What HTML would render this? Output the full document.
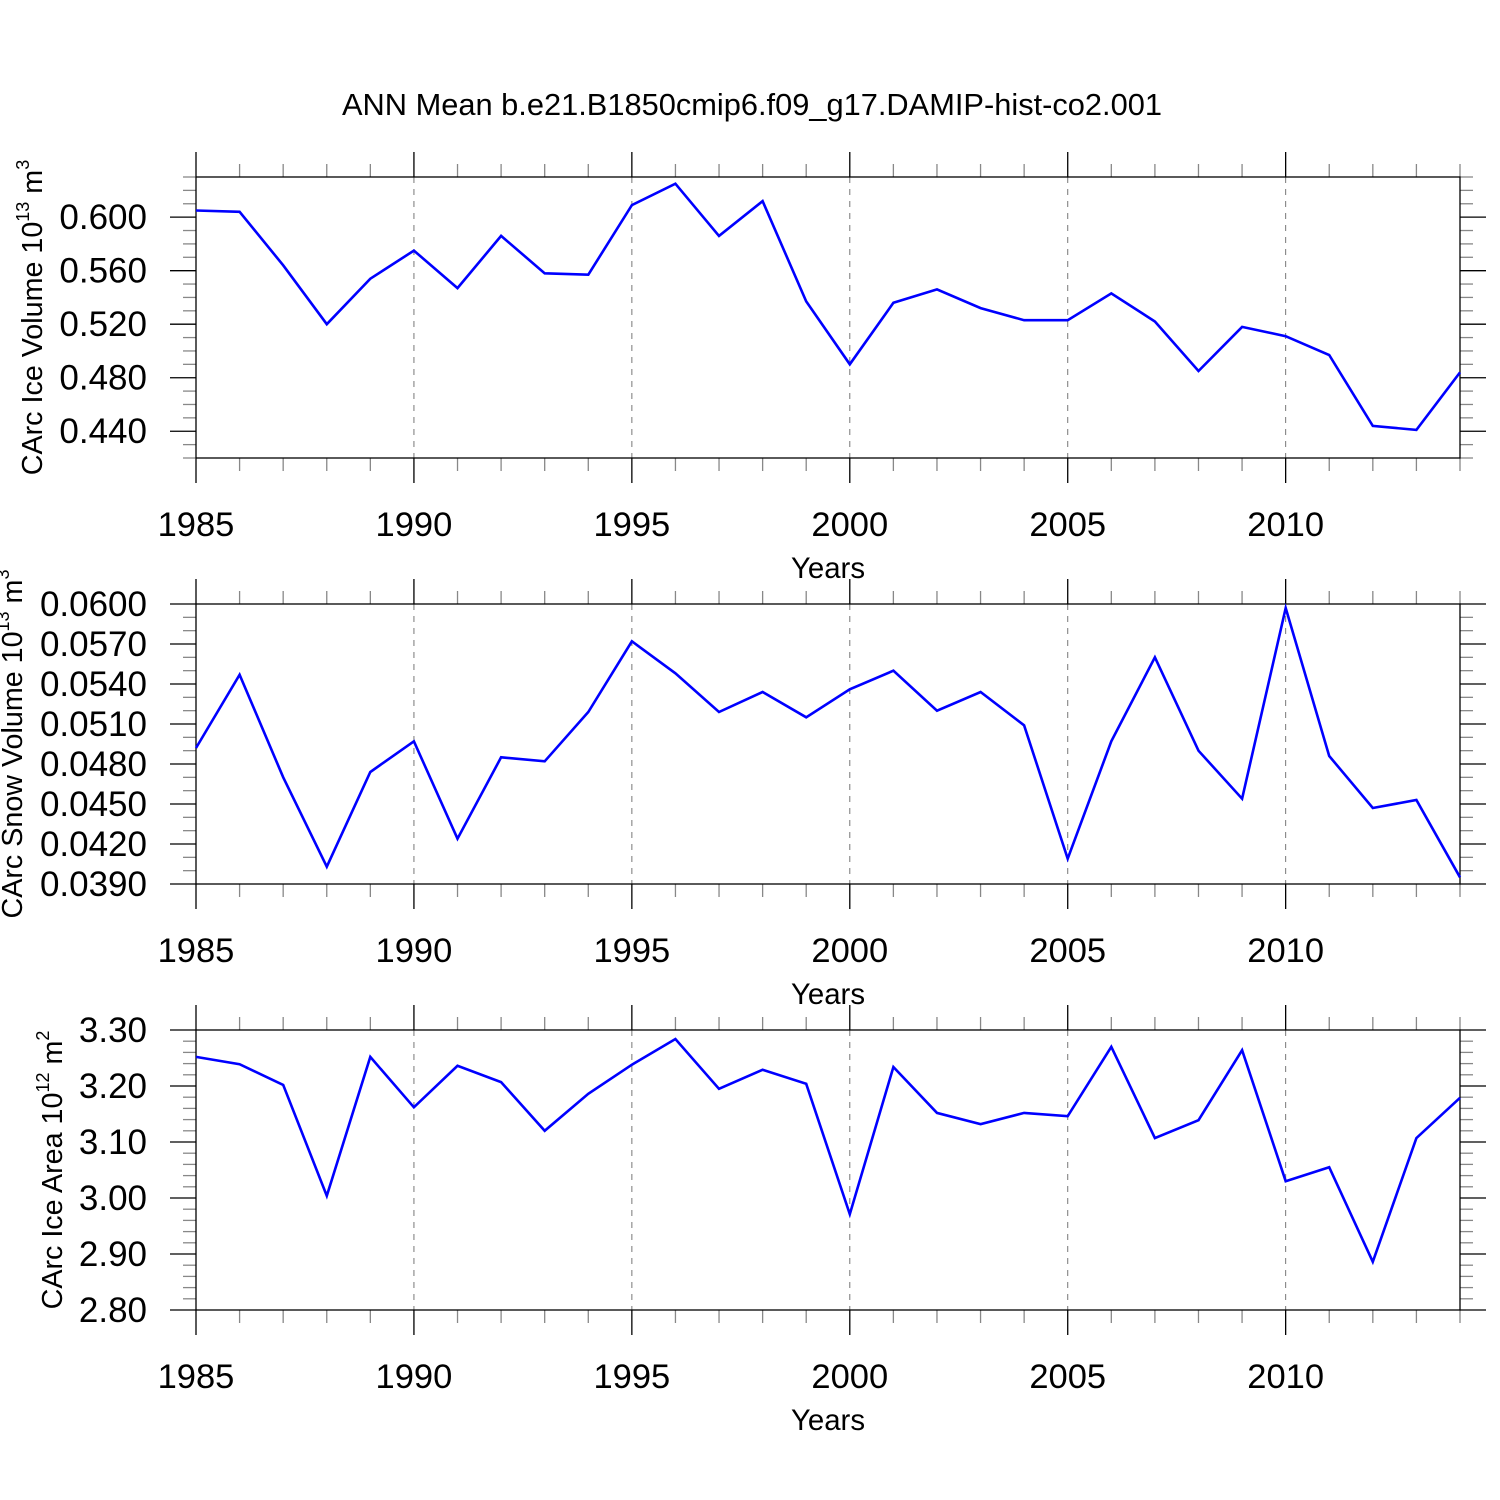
<!DOCTYPE html>
<html><head><meta charset="utf-8">
<style>html,body{margin:0;padding:0;background:#fff;}svg{display:block;}</style>
</head><body>
<svg id="chart" width="1500" height="1500" xmlns="http://www.w3.org/2000/svg" font-family="'Liberation Sans', sans-serif">
<rect width="1500" height="1500" fill="#fff"/>
<text x="752" y="115" font-size="30.8" text-anchor="middle">ANN Mean b.e21.B1850cmip6.f09_g17.DAMIP-hist-co2.001</text>
</svg>
<script>
const years = [1985,1986,1987,1988,1989,1990,1991,1992,1993,1994,1995,1996,1997,1998,1999,2000,2001,2002,2003,2004,2005,2006,2007,2008,2009,2010,2011,2012,2013,2014];
const iceVolume = [0.605,0.604,0.564,0.520,0.554,0.575,0.547,0.586,0.558,0.557,0.609,0.625,0.586,0.612,0.537,0.490,0.536,0.546,0.532,0.523,0.523,0.543,0.522,0.485,0.518,0.511,0.497,0.444,0.441,0.484];
const snowVolume = [0.0492,0.0547,0.0470,0.0403,0.0474,0.0497,0.0424,0.0485,0.0482,0.0519,0.0572,0.0548,0.0519,0.0534,0.0515,0.0536,0.0550,0.0520,0.0534,0.0509,0.0409,0.0497,0.0560,0.0490,0.0454,0.0597,0.0486,0.0447,0.0453,0.0395];
const iceArea = [3.252,3.239,3.202,3.004,3.252,3.162,3.236,3.207,3.120,3.186,3.238,3.284,3.195,3.229,3.204,2.971,3.234,3.152,3.132,3.152,3.146,3.270,3.107,3.139,3.264,3.030,3.055,2.886,3.107,3.179];
const xTickLabels = ["1985","1990","1995","2000","2005","2010"];
const iceVolTicks = ["0.440","0.480","0.520","0.560","0.600"];
const snowTicks = ["0.0390","0.0420","0.0450","0.0480","0.0510","0.0540","0.0570","0.0600"];
const areaTicks = ["2.80","2.90","3.00","3.10","3.20","3.30"];

const svg = document.getElementById('chart');
const NS = 'http://www.w3.org/2000/svg';
function mk(tag, attrs, parent){const e=document.createElementNS(NS,tag);for(const k in attrs)e.setAttribute(k,attrs[k]);(parent||svg).appendChild(e);return e;}

const X0=196, X1=1460;
const xs = y => X0 + (y-1985)/(2014-1985)*(X1-X0);

function panel(p){
  const g=mk('g',{});
  
  
  const ys = v => p.bot - (v-p.min)/(p.max-p.min)*(p.bot-p.top);
  for(let yr=1990; yr<=2010; yr+=5){
    const l=mk('line',{x1:xs(yr),x2:xs(yr),y1:p.top,y2:p.bot,stroke:'#777','stroke-width':1,'stroke-dasharray':'6,6'},g);
    
    
  }
  for(let yr=1985; yr<=2014; yr++){
    const major = (yr%5===0); const len = major?25:13;
    mk('line',{x1:xs(yr),x2:xs(yr),y1:p.top-len,y2:p.top,stroke:major?'#000':'#888','stroke-width':1.3},g);
    mk('line',{x1:xs(yr),x2:xs(yr),y1:p.bot,y2:p.bot+len,stroke:major?'#000':'#888','stroke-width':1.3},g);
  }
  const n=Math.round((p.max-p.min)/p.minor);
  for(let i=0;i<=n;i++){
    const v=p.min+i*p.minor;
    const r=(v-p.majorStart)/p.major;
    const major = Math.abs(r-Math.round(r))<1e-6 && v>=p.majorStart-1e-9;
    const len=major?26:13; const y=ys(v);
    mk('line',{x1:X0-len,x2:X0,y1:y,y2:y,stroke:major?'#000':'#888','stroke-width':1.3},g);
    mk('line',{x1:X1,x2:X1+len,y1:y,y2:y,stroke:major?'#000':'#888','stroke-width':1.3},g);
  }
  const fr=mk('rect',{x:X0,y:p.top,width:X1-X0,height:p.bot-p.top,fill:'none',stroke:'#000','stroke-width':1.3},g);
  
  
  p.ticks.forEach(t=>{
    const tx=mk('text',{x:X0-49,y:ys(parseFloat(t))+12,'font-size':35,'text-anchor':'end'},g);
    tx.textContent=t;
    
    
  });
  xTickLabels.forEach(t=>{
    const tx=mk('text',{x:xs(+t),y:p.bot+78,'font-size':34.5,'text-anchor':'middle'},g);
    tx.textContent=t;
    
    
  });
  const xt=mk('text',{x:828,y:p.bot+120,'font-size':29.4,'text-anchor':'middle'},g);
  xt.textContent='Years';
  
  
  const cy=(p.top+p.bot)/2+p.titleDy;
  const yt=mk('text',{x:0,y:0,'font-size':28.7,'text-anchor':'middle',transform:`translate(${p.titleX},${cy}) rotate(-90)`},g);
  yt.innerHTML=p.title+' 10<tspan font-size="18" dy="-13">'+p.exp+'</tspan><tspan dy="13"> m</tspan><tspan font-size="18" dy="-13">'+p.unitExp+'</tspan>';
  
  
  const pts=years.map((yr,i)=>xs(yr).toFixed(1)+','+ys(p.data[i]).toFixed(1)).join(' ');
  const pl=mk('polyline',{points:pts,fill:'none',stroke:'#0000ff','stroke-width':2.6,'stroke-linejoin':'miter'},g);
  
  
}

panel({name:'ice-volume-panel',top:177,bot:458,min:0.42,max:0.63,minor:0.01,major:0.04,majorStart:0.44,ticks:iceVolTicks,data:iceVolume,title:'CArc Ice Volume',exp:'13',unitExp:'3',titleX:42,titleDy:0});
panel({name:'snow-volume-panel',top:604,bot:884,min:0.039,max:0.060,minor:0.001,major:0.003,majorStart:0.039,ticks:snowTicks,data:snowVolume,title:'CArc Snow Volume',exp:'13',unitExp:'3',titleX:22,titleDy:0});
panel({name:'ice-area-panel',top:1030,bot:1310,min:2.80,max:3.30,minor:0.02,major:0.1,majorStart:2.80,ticks:areaTicks,data:iceArea,title:'CArc Ice Area',exp:'12',unitExp:'2',titleX:62,titleDy:0});
</script>
</body></html>
